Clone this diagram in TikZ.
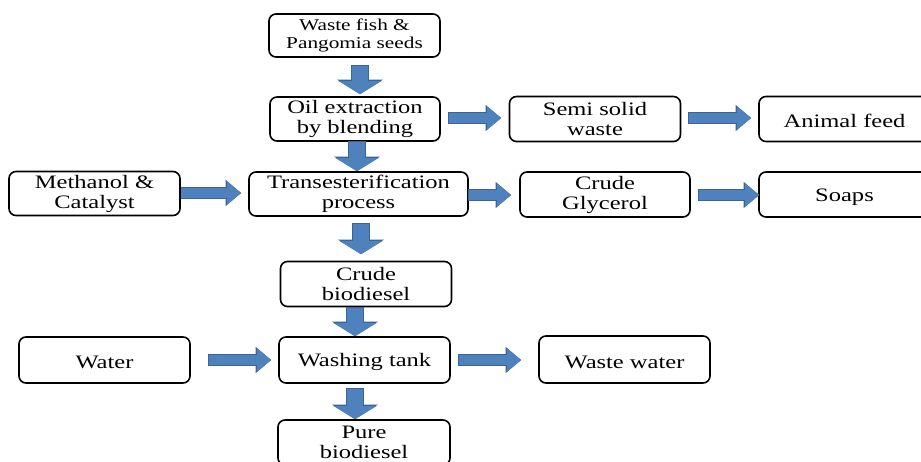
\documentclass[tikz,border=0pt]{standalone}
\usepackage{fontspec}
\setmainfont{Liberation Serif}[FakeStretch=1.29]
\usetikzlibrary{arrows.meta,calc}
\definecolor{ablue}{HTML}{4F81BD}
\definecolor{aedge}{HTML}{3A6494}
\begin{document}
\begin{tikzpicture}[x=1pt,y=-1pt,
  box/.style={draw=black, line width=1.6pt, rounded corners=7pt, align=center,
    inner sep=0pt, font=\fontsize{19}{20}\selectfont,
    execute at begin node={\rule{0pt}{18pt}},
    minimum width=171pt, minimum height=45pt},
  varrow/.style={draw=ablue, line width=16pt, -{Triangle[width=42pt,length=13pt]},
    preaction={draw=aedge, line width=17.5pt, shorten <=-0.75pt,
      -{Triangle[width=45pt,length=14.5pt]}}},
  harrow/.style={draw=ablue, line width=10pt, -{Triangle[width=22pt,length=14pt]},
    preaction={draw=aedge, line width=11.5pt, shorten <=-0.75pt,
      -{Triangle[width=25pt,length=15.5pt]}}}]
\useasboundingbox (0,0) rectangle (921,461);
\clip (0,0) rectangle (921,461);
\fill[white] (0,0) rectangle (921,461);

\node[box, minimum height=43pt, font=\fontsize{16.5}{18.5}\selectfont] (wf) at (354.5,35.5) {Waste fish \&\\Pangomia seeds};
\node[box, minimum width=170pt, minimum height=44pt] (oil) at (355,119) {Oil extraction\\by blending};
\node[box] (semi) at (595,119) {Semi solid\\waste};
\node[box] (feed) at (844.5,119) {Animal feed};
\node[box, minimum height=44pt] (meth) at (94.5,193.5) {Methanol \&\\Catalyst};
\node[box, minimum width=219pt, minimum height=44pt] (trans) at (358.5,194) {Transesterification\\process};
\node[box, minimum width=170pt] (glyc) at (605,194.5) {Crude\\Glycerol};
\node[box] (soaps) at (844.5,194.5) {Soaps};
\node[box] (cbio) at (366,284) {Crude\\biodiesel};
\node[box, minimum height=46pt] (water) at (104.5,360) {Water};
\node[box, minimum height=46pt] (wash) at (364.5,360) {Washing tank};
\node[box, minimum height=47pt] (ww) at (624.5,359.5) {Waste water};
\node[box, minimum width=172pt] (pure) at (364,442.5) {Pure\\biodiesel};

% vertical block arrows
\draw[varrow] ($(wf.south)+(5.5,8)$) -- ($(oil.north)+(5,-2)$);
\draw[varrow] ($(oil.south)+(2,0)$) -- ($(trans.north)+(-1.5,0)$);
\draw[varrow] ($(trans.south)+(2.5,7)$) -- ($(cbio.north)+(-5,-6.5)$);
\draw[varrow] ($(cbio.south)+(-11,0.5)$) -- ($(wash.north)+(-9.5,0)$);
\draw[varrow] ($(wash.south)+(-9.5,5)$) -- ($(pure.north)+(-9,0)$);

% horizontal block arrows
\draw[harrow] ($(oil.east)+(8,-1)$) -- ($(semi.west)+(-7.5,-1)$);
\draw[harrow] ($(semi.east)+(7.5,-1)$) -- ($(feed.west)+(-7,-1)$);
\draw[harrow] ($(meth.east)+(0.5,-0.5)$) -- ($(trans.west)+(-7,-1)$);
\draw[harrow] ($(trans.east)+(0,1)$) -- ($(glyc.west)+(-8,0.5)$);
\draw[harrow] ($(glyc.east)+(8,0.5)$) -- ($(soaps.west)+(1,0.5)$);
\draw[harrow] ($(water.east)+(18,0)$) -- ($(wash.west)+(-7,0)$);
\draw[harrow] ($(wash.east)+(8,0)$) -- ($(ww.west)+(-17,0.5)$);
\end{tikzpicture}
\end{document}
